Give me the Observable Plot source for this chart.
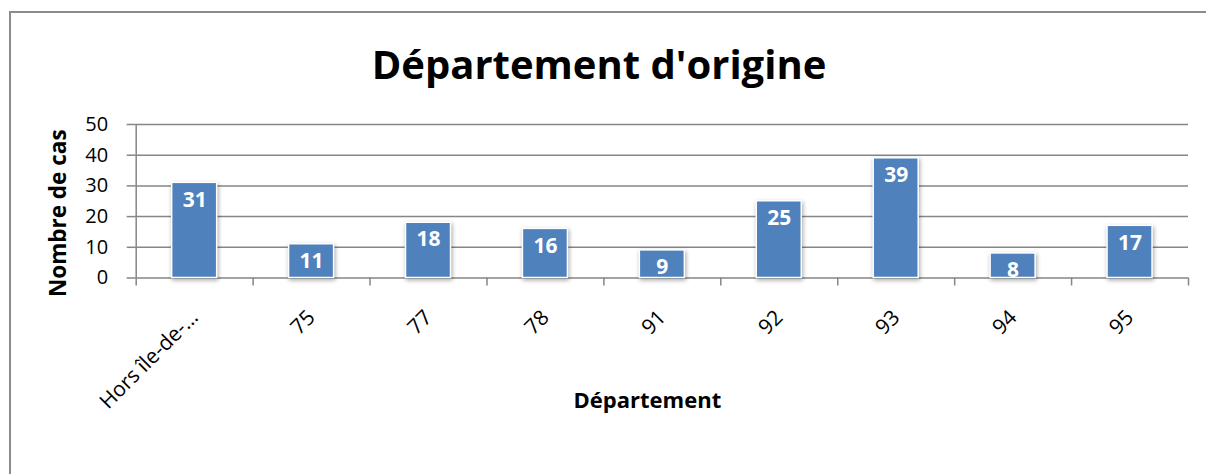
<!DOCTYPE html>
<html><head><meta charset="utf-8">
<script src="https://cdn.jsdelivr.net/npm/d3@7"></script>
<script src="https://cdn.jsdelivr.net/npm/@observablehq/plot@0.6"></script>
<style>
body{margin:0;background:#fff;font-family:"Open Sans",sans-serif;}
#wrap{position:relative;width:1206px;height:474px;overflow:hidden;background:#fff;}
#frame{position:absolute;left:9px;top:11px;width:1300px;height:600px;border:2px solid #8c8c8c;box-sizing:border-box;}
#title{position:absolute;left:0;top:44px;width:1198px;text-align:center;font-weight:700;font-size:40px;line-height:40px;color:#000;}
#chart{position:absolute;left:0;top:100px;}
</style></head>
<body>
<div id="wrap">
  <div id="frame"></div>
  <div id="title">Département d'origine</div>
  <div id="chart"></div>
</div>
<script>
const categories = ["Hors île-de-…", "75", "77", "78", "91", "92", "93", "94", "95"];
const values = [31, 11, 18, 16, 9, 25, 39, 8, 17];
const yTicks = [0, 10, 20, 30, 40, 50];
const xTitle = "Département";
const yTitle = "Nombre de cas";

const data = categories.map((c, i) => ({cat: c, value: values[i]}));

const W = 1206, H = 374, ML = 135.7, MR = 18, MT = 24, MB = 196.5;
const step = (W - ML - MR) / categories.length;
const grey = "#868686";

const plot = Plot.plot({
  width: W, height: H,
  marginLeft: ML, marginRight: MR, marginTop: MT, marginBottom: MB,
  style: {fontFamily: "Open Sans", fontSize: "20px", color: "#000", background: "transparent", overflow: "visible"},
  x: {domain: categories, paddingInner: 0.615, paddingOuter: 0.3075, round: false, label: null},
  y: {domain: [0, 50], label: null},
  marks: [
    Plot.gridY(yTicks, {stroke: grey, strokeOpacity: 1, strokeWidth: 1.5}),
    Plot.axisY(yTicks, {tickSize: 9, tickPadding: 19, stroke: grey, strokeWidth: 1.5, fontSize: 20, label: null}),
    Plot.ruleX([categories[0]], {dx: -step / 2, y1: 0, y2: 50, stroke: grey, strokeWidth: 1.5}),
    Plot.axisX({tickSize: 8, dx: -step / 2, tickFormat: () => "", stroke: grey, strokeWidth: 1.5, label: null}),
    Plot.axisX([categories[categories.length - 1]], {tickSize: 8, dx: step / 2, tickFormat: () => "", stroke: grey, strokeWidth: 1.5, label: null}),
    Plot.axisX({tickSize: 0, tickPadding: 36, tickRotate: -45, fontSize: 21, label: null}),
    Plot.barY(data, {x: "cat", y: "value", fill: "#4F81BD", stroke: "white", strokeWidth: 1.5}),
    Plot.text(data, {x: "cat", y: "value", text: d => String(d.value), dy: 17, fill: "white", fontWeight: "bold", fontSize: 21}),
    Plot.text([xTitle], {frameAnchor: "bottom", dx: -15, dy: 130, fontWeight: "bold", fontSize: 22, fill: "#000"}),
    Plot.text([yTitle], {frameAnchor: "left", textAnchor: "middle", lineAnchor: "middle", rotate: -90, dx: -77, dy: 12, fontWeight: "bold", fontSize: 22.5, fill: "#000"})
  ]
});
const barG = plot.querySelector('g[aria-label="bar"]');
if (barG) barG.style.filter = "drop-shadow(1px 2px 2px rgba(0,0,0,0.35))";
document.getElementById("chart").appendChild(plot);
</script>
</body></html>
